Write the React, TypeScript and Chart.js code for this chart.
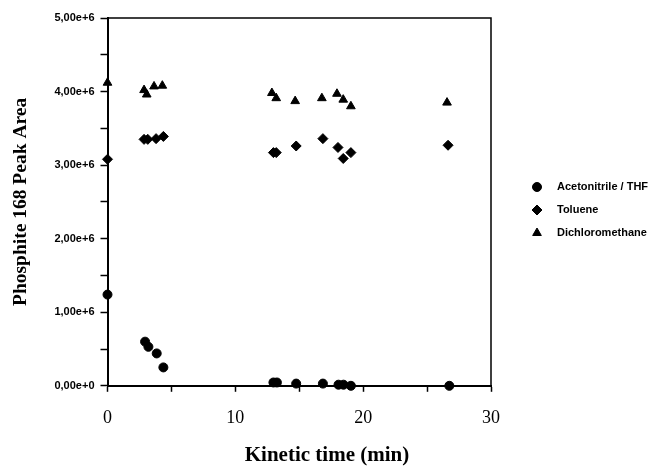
import React, { useEffect, useRef } from 'react';
import { Chart, registerables } from 'chart.js';
import { drawPoint } from 'chart.js/helpers';

Chart.register(...registerables);

// ---- data ----
const seriesNames = ['Acetonitrile / THF', 'Toluene', 'Dichloromethane'];
const seriesStyles = ['circle', 'rectRot', 'triangle'];

const acetonitrileX = [0, 2.94, 3.2, 3.85, 4.37, 12.98, 13.25, 14.76, 16.85, 18.07, 18.46, 19.04, 26.74];
const acetonitrileY = [1.24e6, 0.6e6, 0.53e6, 0.44e6, 0.25e6, 0.045e6, 0.045e6, 0.03e6, 0.03e6, 0.015e6, 0.015e6, 0.0, 0.0];

const tolueneX = [0, 2.86, 3.15, 3.8, 4.37, 12.98, 13.2, 14.76, 16.85, 18.03, 18.44, 19.04, 26.64];
const tolueneY = [3.08e6, 3.35e6, 3.35e6, 3.36e6, 3.39e6, 3.17e6, 3.17e6, 3.26e6, 3.36e6, 3.24e6, 3.09e6, 3.17e6, 3.27e6];

const dichloroX = [0, 2.86, 3.07, 3.64, 4.29, 12.86, 13.2, 14.68, 16.77, 17.95, 18.44, 19.04, 26.56];
const dichloroY = [4.12e6, 4.02e6, 3.96e6, 4.07e6, 4.08e6, 3.98e6, 3.91e6, 3.87e6, 3.91e6, 3.97e6, 3.89e6, 3.8e6, 3.85e6];

const xTickLabels = [0, 10, 20, 30];
const yTickLabels = [0, 1e6, 2e6, 3e6, 4e6, 5e6];

const toPoints = (xs: number[], ys: number[]) => xs.map((x, i) => ({ x, y: ys[i] }));

const fmtY = (v: number) => {
  if (!yTickLabels.includes(v)) return '';
  const exp = v === 0 ? 0 : 6;
  return (v / Math.pow(10, exp)).toFixed(2).replace('.', ',') + 'e+' + exp;
};

const framePlugin = {
  id: 'frame',
  afterDraw(chart: any) {
    const { ctx, chartArea } = chart;
    ctx.save();
    ctx.strokeStyle = '#000';
    ctx.lineWidth = 1.5;
    ctx.beginPath();
    ctx.moveTo(chartArea.left, chartArea.top);
    ctx.lineTo(chartArea.right, chartArea.top);
    ctx.lineTo(chartArea.right, chartArea.bottom);
    ctx.stroke();
    ctx.restore();
  },
};

const legendPlugin = {
  id: 'sideLegend',
  afterDraw(chart: any) {
    const { ctx } = chart;
    const x0 = 537;
    const tx = 557;
    const ys = [187, 210, 233];
    ctx.save();
    chart.data.datasets.forEach((ds: any, i: number) => {
      ctx.fillStyle = '#000';
      ctx.strokeStyle = '#000';
      ctx.lineWidth = 1;
      drawPoint(ctx, { pointStyle: ds.pointStyle, radius: ds.pointRadius, borderWidth: 1, rotation: 0 }, x0, ys[i]);
      ctx.font = 'bold 11px "Liberation Sans", Arial, sans-serif';
      ctx.textBaseline = 'middle';
      ctx.textAlign = 'left';
      ctx.fillText(ds.label, tx, ys[i]);
    });
    ctx.restore();
  },
};

export default function App() {
  const ref = useRef<HTMLCanvasElement>(null);
  useEffect(() => {
    if (!ref.current) return;
    const data = [toPoints(acetonitrileX, acetonitrileY), toPoints(tolueneX, tolueneY), toPoints(dichloroX, dichloroY)];
    const radii = [4.5, 5, 5];
    const chart = new Chart(ref.current, {
      type: 'scatter',
      data: {
        datasets: seriesNames.map((name, i) => ({
          label: name,
          data: data[i],
          pointStyle: seriesStyles[i] as any,
          pointRadius: radii[i],
          pointHoverRadius: radii[i],
          backgroundColor: '#000',
          borderColor: '#000',
          borderWidth: 1,
          clip: false as any,
        })),
      },
      options: {
        animation: false,
        responsive: true,
        maintainAspectRatio: false,
        layout: { padding: { top: 18, right: 0, left: 0, bottom: 0 } },
        plugins: {
          legend: { display: false },
          tooltip: { enabled: false },
          title: {
            display: true,
            position: 'bottom',
            text: 'Kinetic time (min)',
            color: '#000',
            font: { family: '"Liberation Serif", "Times New Roman", serif', size: 21, weight: 'bold' },
            padding: { top: 0, bottom: 0 },
          },
        },
        scales: {
          x: {
            type: 'linear',
            min: 0,
            max: 30,
            afterFit: (s: any) => { s.height = 57; },
            border: { display: true, color: '#000', width: 2 },
            grid: {
              display: true,
              drawOnChartArea: false,
              drawTicks: true,
              tickLength: 6,
              color: '#000',
              tickWidth: 1.5,
            },
            ticks: {
              stepSize: 5,
              color: '#000',
              padding: 16,
              maxRotation: 0,
              font: { family: '"Liberation Serif", "Times New Roman", serif', size: 18 },
              callback: (v: any) => (xTickLabels.includes(Number(v)) ? String(v) : ''),
            },
          },
          y: {
            type: 'linear',
            min: 0,
            max: 5e6,
            afterFit: (s: any) => { s.width = 107.5; },
            border: { display: true, color: '#000', width: 2 },
            grid: {
              display: true,
              drawOnChartArea: false,
              drawTicks: true,
              tickLength: 7,
              color: '#000',
              tickWidth: 1.5,
            },
            ticks: {
              stepSize: 5e5,
              color: '#000',
              padding: 6,
              font: { family: '"Liberation Sans", Arial, sans-serif', size: 11, weight: 'bold' },
              callback: (v: any) => fmtY(Number(v)),
            },
            title: {
              display: true,
              text: 'Phosphite 168 Peak Area',
              color: '#000',
              font: { family: '"Liberation Serif", "Times New Roman", serif', size: 19.5, weight: 'bold' },
              padding: { top: 9, bottom: 0 },
            },
          },
          yRight: {
            type: 'linear',
            position: 'right',
            display: true,
            min: 0,
            max: 5e6,
            afterFit: (s: any) => { s.width = 163; },
            border: { display: false },
            grid: { display: false, drawTicks: false },
            ticks: { display: false },
          },
        },
      },
      plugins: [framePlugin, legendPlugin],
    });
    return () => chart.destroy();
  }, []);
  return (
    <div style={{ position: 'fixed', left: 0, top: 0, width: 654, height: 468, background: '#fff' }}>
      <canvas ref={ref} />
    </div>
  );
}
